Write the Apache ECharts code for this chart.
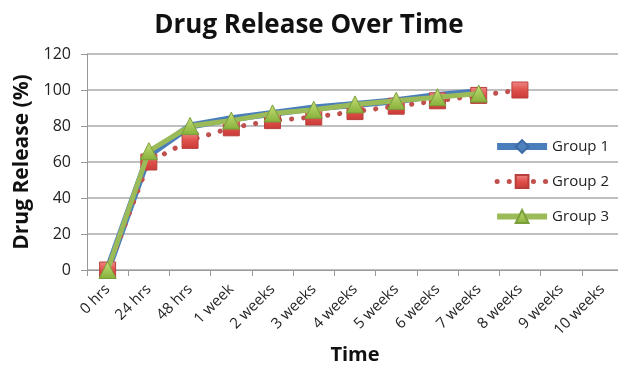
<!DOCTYPE html>
<html><head><meta charset="utf-8">
<script src="https://cdn.jsdelivr.net/npm/echarts@6/dist/echarts.min.js"></script>
<style>html,body{margin:0;padding:0;background:#fff}#c{width:618px;height:366px}</style>
</head><body><div id="c"></div>
<script>
const categories = ['0 hrs','24 hrs','48 hrs','1 week','2 weeks','3 weeks','4 weeks','5 weeks','6 weeks','7 weeks','8 weeks','9 weeks','10 weeks'];
const group1 = [0, 64, 80, 84, 87, 90, 92, 94, 97, 99];
const group2 = [0, 60, 72, 79, 83, 85, 88, 91, 94, 97, 100];
const group3 = [0, 66, 80, 83, 87, 89, 92, 94, 96, 98];
const yTicks = {min: 0, max: 120, interval: 20};

const font = 'Open Sans';
const chart = echarts.init(document.getElementById('c'), null, {renderer: 'canvas'});
chart.setOption({
  animation: false,
  backgroundColor: '#fff',
  title: {
    text: 'Drug Release Over Time', left: 'center', top: 8,
    textStyle: {fontFamily: font, fontWeight: 'bold', fontSize: 26, color: '#111'}
  },
  legend: {
    orient: 'vertical', right: 4, top: 134, itemGap: 20,
    itemWidth: 50, itemHeight: 16,
    textStyle: {fontFamily: font, fontSize: 15, color: '#222'},
    data: [
      {name: 'Group 1', lineStyle: {width: 7}},
      {name: 'Group 2', lineStyle: {width: 5}},
      {name: 'Group 3', lineStyle: {width: 6}}
    ]
  },
  grid: {left: 87, right: -5, top: 54, bottom: 96, containLabel: false, outerBoundsMode: 'none'},
  xAxis: {
    type: 'category', data: categories, boundaryGap: true,
    name: 'Time', nameLocation: 'middle', nameGap: 74,
    nameTextStyle: {fontFamily: font, fontWeight: 'bold', fontSize: 20, color: '#111'},
    axisLine: {lineStyle: {color: '#999', width: 1}},
    axisTick: {show: true, alignWithLabel: false, length: 6, lineStyle: {color: '#999'}},
    axisLabel: {rotate: 45, fontFamily: font, fontSize: 15, color: '#222', margin: 17, interval: 0}
  },
  yAxis: {
    type: 'value', min: yTicks.min, max: yTicks.max, interval: yTicks.interval,
    name: 'Drug Release (%)', nameLocation: 'middle', nameGap: 47,
    nameTextStyle: {fontFamily: font, fontWeight: 'bold', fontSize: 21, color: '#111'},
    axisLine: {show: true, lineStyle: {color: '#999'}},
    axisTick: {show: true, length: 6, lineStyle: {color: '#999'}},
    axisLabel: {fontFamily: font, fontSize: 16, color: '#222', margin: 16},
    splitLine: {lineStyle: {color: '#aaa', width: 1.5}}
  },
  series: [
    {
      name: 'Group 1', type: 'line', data: group1, z: 2,
      symbol: 'diamond', symbolSize: 9,
      lineStyle: {color: '#4a7ebb', width: 7},
      itemStyle: {color: '#4f81bd', borderColor: '#3c6aa6', borderWidth: 1}
    },
    {
      name: 'Group 2', type: 'line', data: group2, z: 3,
      symbol: 'rect', symbolSize: 16,
      lineStyle: {color: '#c0504d', width: 5, type: [0.1, 12], cap: 'round'},
      itemStyle: {
        color: new echarts.graphic.LinearGradient(0, 0, 0, 1, [
          {offset: 0, color: '#f08a86'}, {offset: 0.5, color: '#e0504b'}, {offset: 1, color: '#c83a36'}
        ]),
        borderColor: '#b8403c', borderWidth: 1
      }
    },
    {
      name: 'Group 3', type: 'line', data: group3, z: 4,
      symbol: 'triangle', symbolSize: 17,
      lineStyle: {color: '#9bbb59', width: 5},
      itemStyle: {
        color: new echarts.graphic.LinearGradient(0, 0, 0, 1, [
          {offset: 0, color: '#c6e07a'}, {offset: 1, color: '#86b03a'}
        ]),
        borderColor: '#7a9e3a', borderWidth: 1
      }
    }
  ]
});
</script></body></html>
